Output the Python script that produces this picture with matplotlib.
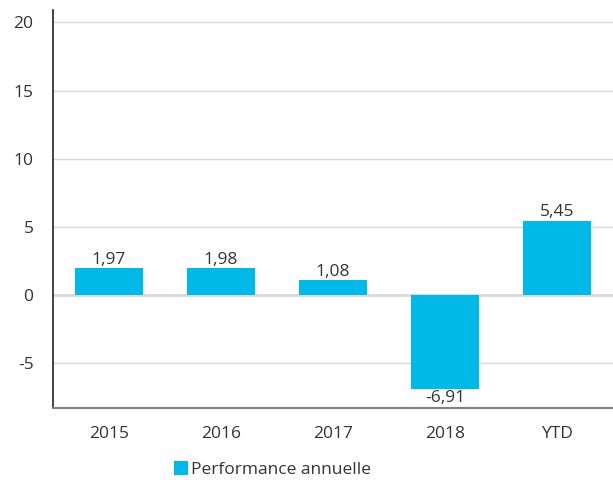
import numpy as np
import matplotlib.pyplot as plt

# Data
categories = ['2015', '2016', '2017', '2018', 'YTD']
performance = [1.97, 1.98, 1.08, -6.91, 5.45]
labels = ['1,97', '1,98', '1,08', '-6,91', '5,45']
yticks = [-5, 0, 5, 10, 15, 20]

plt.rcParams['font.family'] = ['Open Sans', 'DejaVu Sans']
plt.rcParams['axes.unicode_minus'] = False
bar_color = '#00B9E6'
text_color = '#333333'

fig = plt.figure(figsize=(6.13, 4.83), dpi=100)
ax = fig.add_axes([0.0865, 0.155, 0.9135, 0.824])

x = np.arange(len(categories))
bars = ax.bar(x, performance, width=0.61, color=bar_color, zorder=3,
              label='Performance annuelle')

for xi, v, lab in zip(x, performance, labels):
    if v >= 0:
        ax.text(xi, v + 0.05, lab, ha='center', va='bottom', fontsize=12.5, color=text_color)
    else:
        ax.text(xi, v - 0.05, lab, ha='center', va='top', fontsize=12.5, color=text_color)

ax.set_xlim(-0.5, 4.5)
ax.set_ylim(-8.28, 20.9)
ax.set_yticks(yticks)
ax.set_xticks(x)
ax.set_xticklabels(categories)
ax.tick_params(axis='both', length=0, labelsize=12.5, labelcolor=text_color)
ax.tick_params(axis='x', pad=13)
ax.tick_params(axis='y', pad=14)

ax.grid(axis='y', color='#d9d9d9', linewidth=1, zorder=0)
ax.axhline(0, color='#d9d9d9', linewidth=2, zorder=1)
for s in ['top', 'right']:
    ax.spines[s].set_visible(False)
ax.spines['left'].set_color('#222222')
ax.spines['left'].set_linewidth(1.2)
ax.spines['bottom'].set_color('#808080')
ax.spines['bottom'].set_linewidth(1.5)

fig.legend(loc='lower center', bbox_to_anchor=(0.445, -0.022), frameon=False,
           fontsize=12.5, handlelength=0.8, handleheight=0.8, handletextpad=0.2,
           labelcolor=text_color)

fig.savefig('out.png', dpi=100)
